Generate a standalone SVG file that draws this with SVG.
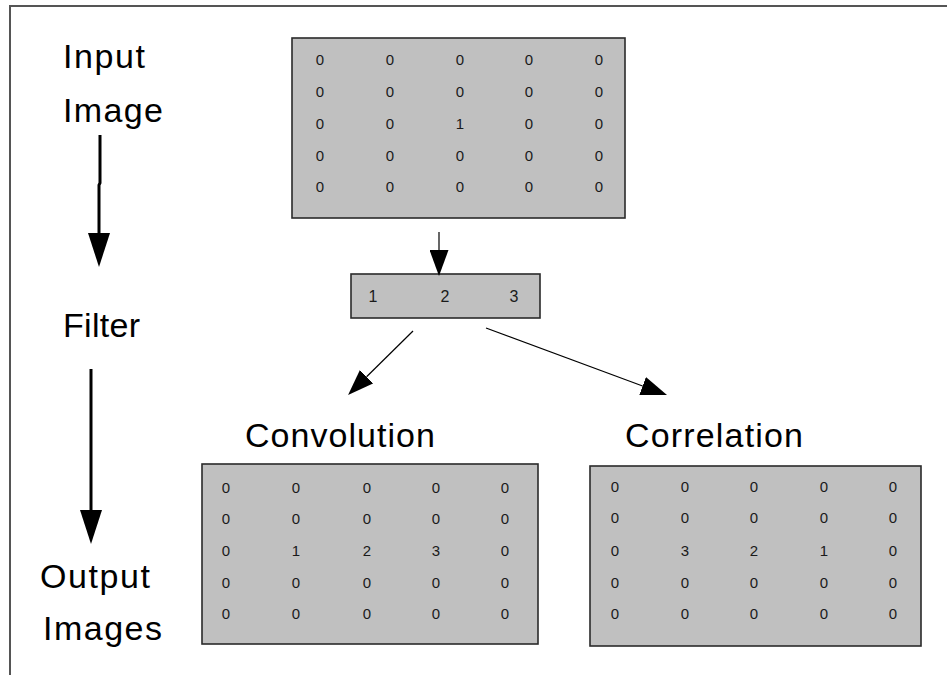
<svg xmlns="http://www.w3.org/2000/svg" width="947" height="675" viewBox="0 0 947 675">
  <style>
    .label { font-family: "Liberation Sans", Arial, sans-serif; font-size: 34px; fill: #000; }
    .num { font-family: "Liberation Sans", Arial, sans-serif; font-size: 15px; fill: #1a1a1a; text-anchor: middle; }
    .fnum { font-family: "Liberation Sans", Arial, sans-serif; font-size: 16px; fill: #1a1a1a; text-anchor: middle; }
    .box { fill: #c0c0c0; stroke: #2a2a2a; stroke-width: 1.6; }
    .thick { stroke: #000; stroke-width: 3; fill: none; }
    .thin { stroke: #000; stroke-width: 1.2; fill: none; }
  </style>
  <defs>
    <marker id="bigHead" markerUnits="userSpaceOnUse" viewBox="0 0 34 22" refX="0" refY="11" markerWidth="34" markerHeight="22" orient="auto">
      <path d="M0,0 L34,11 L0,22 Z" fill="#000"/>
    </marker>
    <marker id="smallHead" markerUnits="userSpaceOnUse" viewBox="0 0 26 19" refX="0" refY="9.5" markerWidth="26" markerHeight="19" orient="auto">
      <path d="M0,0 L26,9.5 L0,19 Z" fill="#000"/>
    </marker>
  </defs>

  <rect x="0" y="0" width="947" height="675" fill="#fff"/>
  <!-- frame -->
  <path d="M10,675 L10,6 L947,6" fill="none" stroke="#555" stroke-width="2"/>

  <!-- side captions -->
  <g id="captions">
    <text class="label" x="63" y="68" textLength="82">Input</text>
    <text class="label" x="63" y="122" textLength="100">Image</text>
    <text class="label" x="63" y="337" textLength="77">Filter</text>
    <text class="label" x="40" y="588" textLength="110">Output</text>
    <text class="label" x="43" y="640" textLength="119">Images</text>
  </g>

  <!-- input image matrix -->
  <g id="input-image">
    <rect class="box" x="292" y="38" width="333" height="180"/>
    <g class="num">
      <text x="320" y="65">0</text><text x="390" y="65">0</text><text x="460" y="65">0</text><text x="529" y="65">0</text><text x="599" y="65">0</text>
      <text x="320" y="97">0</text><text x="390" y="97">0</text><text x="460" y="97">0</text><text x="529" y="97">0</text><text x="599" y="97">0</text>
      <text x="320" y="129">0</text><text x="390" y="129">0</text><text x="460" y="129">1</text><text x="529" y="129">0</text><text x="599" y="129">0</text>
      <text x="320" y="161">0</text><text x="390" y="161">0</text><text x="460" y="161">0</text><text x="529" y="161">0</text><text x="599" y="161">0</text>
      <text x="320" y="192">0</text><text x="390" y="192">0</text><text x="460" y="192">0</text><text x="529" y="192">0</text><text x="599" y="192">0</text>
    </g>
  </g>

  <!-- filter kernel -->
  <g id="filter">
    <rect class="box" x="351" y="274" width="189" height="44"/>
    <g class="fnum">
      <text x="373" y="302">1</text><text x="445" y="302">2</text><text x="514" y="302">3</text>
    </g>
  </g>

  <!-- convolution output -->
  <g id="convolution">
    <text class="label" x="245" y="447" textLength="190">Convolution</text>
    <rect class="box" x="202" y="464" width="336" height="180"/>
    <g class="num">
      <text x="226" y="493">0</text><text x="296" y="493">0</text><text x="367" y="493">0</text><text x="436" y="493">0</text><text x="505" y="493">0</text>
      <text x="226" y="524">0</text><text x="296" y="524">0</text><text x="367" y="524">0</text><text x="436" y="524">0</text><text x="505" y="524">0</text>
      <text x="226" y="556">0</text><text x="296" y="556">1</text><text x="367" y="556">2</text><text x="436" y="556">3</text><text x="505" y="556">0</text>
      <text x="226" y="588">0</text><text x="296" y="588">0</text><text x="367" y="588">0</text><text x="436" y="588">0</text><text x="505" y="588">0</text>
      <text x="226" y="619">0</text><text x="296" y="619">0</text><text x="367" y="619">0</text><text x="436" y="619">0</text><text x="505" y="619">0</text>
    </g>
  </g>

  <!-- correlation output -->
  <g id="correlation">
    <text class="label" x="625" y="447" textLength="178">Correlation</text>
    <rect class="box" x="590" y="466" width="331" height="180"/>
    <g class="num">
      <text x="615" y="492">0</text><text x="685" y="492">0</text><text x="754" y="492">0</text><text x="824" y="492">0</text><text x="893" y="492">0</text>
      <text x="615" y="523">0</text><text x="685" y="523">0</text><text x="754" y="523">0</text><text x="824" y="523">0</text><text x="893" y="523">0</text>
      <text x="615" y="556">0</text><text x="685" y="556">3</text><text x="754" y="556">2</text><text x="824" y="556">1</text><text x="893" y="556">0</text>
      <text x="615" y="588">0</text><text x="685" y="588">0</text><text x="754" y="588">0</text><text x="824" y="588">0</text><text x="893" y="588">0</text>
      <text x="615" y="619">0</text><text x="685" y="619">0</text><text x="754" y="619">0</text><text x="824" y="619">0</text><text x="893" y="619">0</text>
    </g>
  </g>

  <!-- connectors -->
  <g id="connectors">
    <path class="thick" d="M100,135 L100,183 L99,185 L99,233" marker-end="url(#bigHead)"/>
    <path class="thick" d="M91,369 L91,510" marker-end="url(#bigHead)"/>
    <path class="thin" d="M439,232 L439,250" marker-end="url(#smallHead)"/>
    <path class="thin" d="M413,331 L366.6,376.7" marker-end="url(#smallHead)"/>
    <path class="thin" d="M486,328 L642.6,386" marker-end="url(#smallHead)"/>
  </g>
</svg>
